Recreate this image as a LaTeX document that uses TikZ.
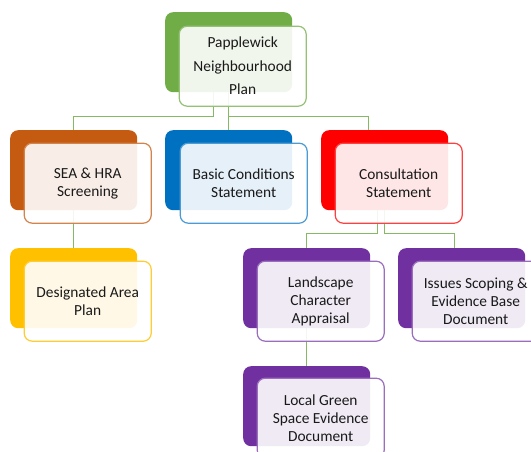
\documentclass[tikz,border=0pt]{standalone}
\usepackage{fontspec}
\setmainfont{Carlito}
\usetikzlibrary{positioning,calc,backgrounds}

\definecolor{leafgreen}{HTML}{70AD47}
\definecolor{rust}{HTML}{C55A11}
\definecolor{ocean}{HTML}{0070C0}
\definecolor{signal}{HTML}{FF0000}
\definecolor{amber}{HTML}{FFC000}
\definecolor{plum}{HTML}{7030A0}

\tikzset{
	backbox/.style={rectangle, rounded corners=8pt, minimum width=127pt, minimum height=80pt, inner sep=0pt, draw=none, fill=#1, anchor=north west},
	frontbox/.style={rectangle, rounded corners=8pt, minimum width=127pt, minimum height=80pt, inner sep=0pt, fill=white, fill opacity=0.9, text opacity=1, draw=#1, line width=1.2pt, align=center, text=black!90, font=\fontsize{15.4}{18}\selectfont},
	link/.style={draw=leafgreen!85, line width=1.3pt}
}

\begin{document}
\begin{tikzpicture}[x=1pt, y=-1pt]
			%%%%% FRAME %%%%%
			\useasboundingbox (0,0) rectangle (531,452);
			\clip (0,0) rectangle (531,452);
			
			%%%%% TOP %%%%%
			\node[backbox=leafgreen] (planback) at (165,12) {};
			\node[frontbox=leafgreen!75] (plan) at ([shift={(14,14)}]planback.center) {Papplewick\\[5.5pt]Neighbourhood\\[5.5pt]Plan};
			
			%%%%% SECOND ROW %%%%%
			\node[backbox=rust] (seaback) at (10,130) {};
			\node[frontbox=rust!75] (sea) at ([shift={(14,13)}]seaback.center) {SEA \& HRA\\Screening};
			
			\node[backbox=ocean] (basicback) at (165,130) {};
			\node[frontbox=ocean!70] (basic) at ([shift={(15,13)}]basicback.center) {Basic Conditions\\Statement};
			
			\node[backbox=signal] (consultback) at (321,130) {};
			\node[frontbox=signal!75] (consult) at ([shift={(14,13)}]consultback.center) {Consultation\\Statement};
			
			%%%%% THIRD ROW %%%%%
			\node[backbox=amber] (areaback) at (10,248) {};
			\node[frontbox=amber!80] (area) at ([shift={(14,13)}]areaback.center) {Designated Area\\Plan};
			
			\node[backbox=plum] (landback) at (243,248) {};
			\node[frontbox=plum!70] (land) at ([shift={(14,13)}]landback.center) {Landscape\\Character\\Appraisal};
			
			\node[backbox=plum] (issuesback) at (398,248) {};
			\node[frontbox=plum!70] (issues) at ([shift={(14,13)}]issuesback.center) {Issues Scoping \&\\Evidence Base\\Document};
			
			%%%%% BOTTOM %%%%%
			\node[backbox=plum] (localback) at (243,366) {};
			\node[frontbox=plum!70] (local) at ([shift={(14,12)}]localback.center) {Local Green\\Space Evidence\\Document};
			
			%%%%% LINKS %%%%%
			\begin{scope}[on background layer]
				\draw[link] ([xshift=-15]planback.south) -- ++(0,24) -| (seaback.north);
				\draw[link] (planback.south) -- (basicback.north);
				\draw[link] (planback.south) -- ++(0,24) -| ([xshift=-16]consultback.north);
				\draw[link] (seaback.south) -- (areaback.north);
				\draw[link] ([xshift=-7]consultback.south) -- ++(0,23) -| (landback.north);
				\draw[link] (consultback.south) -- ++(0,23) -| ([xshift=-7]issuesback.north);
				\draw[link] (landback.south) -- (localback.north);
			\end{scope}
		\end{tikzpicture}
\end{document}
